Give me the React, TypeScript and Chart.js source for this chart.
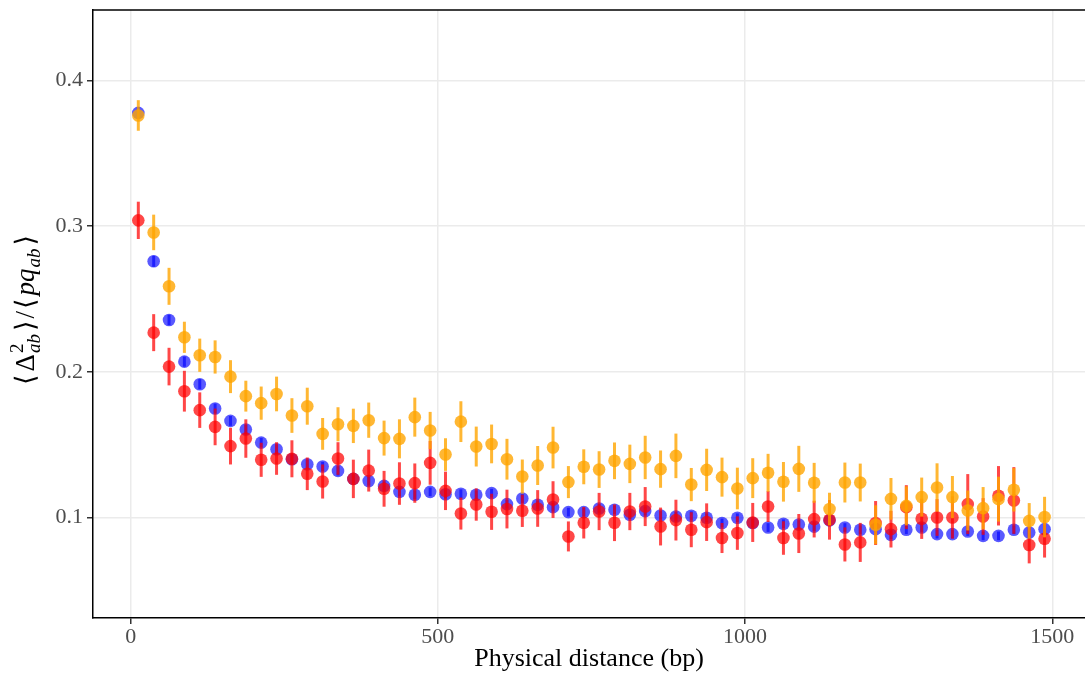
import React, { useEffect, useRef } from 'react';
import { Chart, registerables } from 'chart.js';

Chart.register(...registerables);

// Physical distance (bp), bin centres
const distances = [
  12.5, 37.5, 62.5, 87.5, 112.5, 137.5, 162.5, 187.5, 212.5, 237.5,
  262.5, 287.5, 312.5, 337.5, 362.5, 387.5, 412.5, 437.5, 462.5, 487.5,
  512.5, 537.5, 562.5, 587.5, 612.5, 637.5, 662.5, 687.5, 712.5, 737.5,
  762.5, 787.5, 812.5, 837.5, 862.5, 887.5, 912.5, 937.5, 962.5, 987.5,
  1012.5, 1037.5, 1062.5, 1087.5, 1112.5, 1137.5, 1162.5, 1187.5, 1212.5, 1237.5,
  1262.5, 1287.5, 1312.5, 1337.5, 1362.5, 1387.5, 1412.5, 1437.5, 1462.5, 1487.5,
];

const blueMean = [
  0.3778, 0.2759, 0.2356, 0.207, 0.1915, 0.1748, 0.1663, 0.1604, 0.1514, 0.1469,
  0.14, 0.1366, 0.135, 0.132, 0.1265, 0.125, 0.1217, 0.1176, 0.1156, 0.1176,
  0.116, 0.1163, 0.1156, 0.1167, 0.1092, 0.113, 0.1087, 0.1071, 0.1037, 0.1037,
  0.1062, 0.1053, 0.1019, 0.1044, 0.1014, 0.1007, 0.1012, 0.0998, 0.0962, 0.0998,
  0.0962, 0.0931, 0.0957, 0.0952, 0.0937, 0.098, 0.0931, 0.0916, 0.092, 0.0881,
  0.0916, 0.0931, 0.0886, 0.0886, 0.0904, 0.0874, 0.0874, 0.0916, 0.0897, 0.092,
];
const blueErr = [
  0.004, 0.0038, 0.0036, 0.0035, 0.0035, 0.0034, 0.0034, 0.0033, 0.0033, 0.0033,
  0.0032, 0.0032, 0.0032, 0.0032, 0.0031, 0.0031, 0.0031, 0.0031, 0.0031, 0.003,
  0.003, 0.003, 0.003, 0.003, 0.003, 0.003, 0.003, 0.003, 0.003, 0.003,
  0.003, 0.003, 0.003, 0.003, 0.003, 0.003, 0.003, 0.003, 0.003, 0.003,
  0.003, 0.003, 0.003, 0.003, 0.003, 0.003, 0.003, 0.003, 0.003, 0.003,
  0.003, 0.003, 0.003, 0.003, 0.003, 0.003, 0.003, 0.003, 0.003, 0.003,
];

const redMean = [
  0.304, 0.2269, 0.2036, 0.1867, 0.1737, 0.1622, 0.149, 0.1542, 0.1396, 0.1405,
  0.1403, 0.13, 0.1247, 0.1405, 0.1265, 0.1322, 0.1197, 0.1233, 0.1236, 0.1375,
  0.1183, 0.1027, 0.1089, 0.1039, 0.1058, 0.1046, 0.1062, 0.1123, 0.087, 0.0964,
  0.1041, 0.0964, 0.1041, 0.1075, 0.0938, 0.0982, 0.0916, 0.0968, 0.0859, 0.0893,
  0.0966, 0.1075, 0.0859, 0.089, 0.0989, 0.0984, 0.0815, 0.0829, 0.0962, 0.092,
  0.1071, 0.0991, 0.1, 0.1, 0.1092, 0.1007, 0.1149, 0.1117, 0.0811, 0.0854,
];
const redErr = [
  0.0128, 0.0127, 0.0129, 0.014, 0.0122, 0.0126, 0.0126, 0.0132, 0.0117, 0.0112,
  0.0127, 0.0112, 0.0117, 0.0112, 0.0132, 0.0144, 0.0123, 0.0146, 0.0135, 0.015,
  0.0132, 0.011, 0.0111, 0.0124, 0.0133, 0.0111, 0.0126, 0.0126, 0.0103, 0.0108,
  0.0128, 0.0126, 0.0128, 0.0134, 0.013, 0.014, 0.012, 0.0129, 0.0103, 0.0115,
  0.0134, 0.0106, 0.0115, 0.0134, 0.0126, 0.0136, 0.0117, 0.0134, 0.0151, 0.0126,
  0.0151, 0.0138, 0.0126, 0.0145, 0.0206, 0.0126, 0.0204, 0.0229, 0.0126, 0.0129,
];

const orangeMean = [
  0.376, 0.2957, 0.2587, 0.2237, 0.2114, 0.2102, 0.1967, 0.1833, 0.1785, 0.1848,
  0.17, 0.1764, 0.1574, 0.164, 0.1629, 0.1668, 0.1545, 0.154, 0.1689, 0.1597,
  0.1432, 0.1658, 0.1487, 0.1505, 0.14, 0.1281, 0.1357, 0.148, 0.1243, 0.1348,
  0.1329, 0.1389, 0.1368, 0.1412, 0.1332, 0.1423, 0.1226, 0.1327, 0.1277, 0.1199,
  0.127, 0.1307, 0.1245, 0.1334, 0.1238, 0.1058, 0.124, 0.124, 0.095, 0.1128,
  0.108, 0.114, 0.1206, 0.114, 0.1048, 0.1064, 0.1126, 0.119, 0.0977, 0.1003,
];
const orangeErr = [
  0.0105, 0.0122, 0.0127, 0.0107, 0.0114, 0.0114, 0.0113, 0.0106, 0.0114, 0.0119,
  0.0119, 0.0127, 0.0109, 0.0117, 0.0118, 0.0121, 0.012, 0.0134, 0.0134, 0.0128,
  0.0112, 0.014, 0.0137, 0.0133, 0.014, 0.0117, 0.0134, 0.0143, 0.011, 0.012,
  0.0126, 0.0126, 0.0132, 0.0149, 0.0128, 0.0153, 0.0114, 0.0145, 0.0134, 0.0143,
  0.0137, 0.013, 0.0136, 0.0158, 0.0137, 0.0112, 0.0137, 0.013, 0.0134, 0.0143,
  0.0134, 0.0134, 0.0166, 0.0145, 0.0137, 0.0145, 0.0154, 0.0149, 0.0122, 0.0139,
];

const xTicks = [0, 500, 1000, 1500];
const yTicks = [0.1, 0.2, 0.3, 0.4];
const xTitle = 'Physical distance (bp)';

const FONT = "'Liberation Serif', 'DejaVu Serif', 'Times New Roman', serif";

const errorBarPlugin = {
  id: 'errorBars',
  beforeDatasetDraw(chart: any, args: any) {
    const ds = chart.data.datasets[args.index];
    const errs: number[] = ds.errors;
    if (!errs) return;
    const { ctx, scales } = chart;
    ctx.save();
    ctx.strokeStyle = ds.barColor;
    ctx.lineWidth = 3;
    ctx.lineCap = 'butt';
    ds.data.forEach((p: any, i: number) => {
      const x = scales.x.getPixelForValue(p.x);
      const y1 = scales.y.getPixelForValue(p.y - errs[i]);
      const y2 = scales.y.getPixelForValue(p.y + errs[i]);
      ctx.beginPath();
      ctx.moveTo(x, y1);
      ctx.lineTo(x, y2);
      ctx.stroke();
    });
    ctx.restore();
  },
};

const framePlugin = {
  id: 'frameTop',
  afterDraw(chart: any) {
    const { ctx, chartArea } = chart;
    ctx.save();
    ctx.strokeStyle = '#000';
    ctx.lineWidth = 1.5;
    ctx.beginPath();
    ctx.moveTo(chartArea.left - 0.75, chartArea.top);
    ctx.lineTo(chartArea.right + 2, chartArea.top);
    ctx.stroke();
    ctx.restore();
  },
};

const yTitlePlugin = {
  id: 'yTitle',
  afterDraw(chart: any) {
    const ctx = chart.ctx;
    const base = 27;
    const small = 19;
    const up = `${base}px ${FONT}`;
    const it = `italic ${base}px ${FONT}`;
    const sm = `${small}px ${FONT}`;
    const smIt = `italic ${small}px ${FONT}`;
    type Piece = { items: { t: string; f: string; dy: number }[]; gap: number };
    const pieces: Piece[] = [
      { items: [{ t: '⟨', f: up, dy: 0 }], gap: 3 },
      { items: [{ t: 'Δ', f: up, dy: 0 }], gap: 1 },
      { items: [{ t: '2', f: sm, dy: -11 }, { t: 'ab', f: smIt, dy: 6 }], gap: 3 },
      { items: [{ t: '⟩', f: up, dy: 0 }], gap: 2 },
      { items: [{ t: '/', f: up, dy: 0 }], gap: 2 },
      { items: [{ t: '⟨', f: up, dy: 0 }], gap: 3 },
      { items: [{ t: 'pq', f: it, dy: 0 }], gap: 1 },
      { items: [{ t: 'ab', f: smIt, dy: 6 }], gap: 3 },
      { items: [{ t: '⟩', f: up, dy: 0 }], gap: 0 },
    ];
    ctx.save();
    const widths = pieces.map((p) =>
      Math.max(
        ...p.items.map((it2) => {
          ctx.font = it2.f;
          return ctx.measureText(it2.t).width;
        })
      )
    );
    const total = widths.reduce((a, b, i) => a + b + pieces[i].gap, 0);
    ctx.translate(34, 310);
    ctx.rotate(-Math.PI / 2);
    ctx.fillStyle = '#000';
    ctx.textBaseline = 'alphabetic';
    ctx.textAlign = 'left';
    let x = -total / 2;
    pieces.forEach((p, i) => {
      p.items.forEach((it2) => {
        ctx.font = it2.f;
        ctx.fillText(it2.t, x, it2.dy);
      });
      x += widths[i] + p.gap;
    });
    ctx.restore();
  },
};

export default function App() {
  const ref = useRef<HTMLCanvasElement | null>(null);

  useEffect(() => {
    document.body.style.margin = '0';
    const canvas = ref.current;
    if (!canvas) return;
    const mk = (m: number[]) => m.map((v, i) => ({ x: distances[i], y: v }));
    const chart = new Chart(canvas, {
      type: 'scatter',
      data: {
        datasets: [
          {
            label: 'orange',
            data: mk(orangeMean),
            backgroundColor: 'rgba(255,165,0,0.8)',
            borderWidth: 0,
            pointRadius: 6.3,
            errors: orangeErr,
            barColor: 'rgba(255,165,0,0.8)',
          } as any,
          {
            label: 'red',
            data: mk(redMean),
            backgroundColor: 'rgba(255,0,0,0.72)',
            borderWidth: 0,
            pointRadius: 6.3,
            errors: redErr,
            barColor: 'rgba(255,0,0,0.72)',
          } as any,
          {
            label: 'blue',
            data: mk(blueMean),
            backgroundColor: 'rgba(0,0,255,0.65)',
            borderWidth: 0,
            pointRadius: 6.3,
            errors: blueErr,
            barColor: 'rgba(0,0,255,0.65)',
          } as any,
        ],
      },
      options: {
        animation: false,
        responsive: false,
        devicePixelRatio: 1,
        events: [],
        layout: { autoPadding: false, padding: { top: 10, right: 0, left: 0, bottom: 0 } },
        plugins: {
          legend: { display: false },
          tooltip: { enabled: false },
        },
        scales: {
          x: {
            type: 'linear',
            min: -61.25,
            max: 1553.3,
            afterBuildTicks: (s: any) => {
              s.ticks = xTicks.map((v) => ({ value: v }));
            },
            afterFit: (s: any) => {
              s.height = 60;
              s.paddingLeft = 0;
              s.paddingRight = 0;
              s.paddingTop = 0;
              s.paddingBottom = 0;
            },
            grid: {
              color: '#EBEBEB',
              lineWidth: 1.5,
              drawTicks: true,
              tickLength: 6,
              tickColor: '#333333',
              tickWidth: 1.5,
            },
            border: { display: true, color: '#000', width: 1.5 },
            ticks: {
              color: '#4D4D4D',
              font: { family: FONT, size: 22 },
              padding: 0,
              maxRotation: 0,
              callback: (v: any) => String(v),
            },
            title: {
              display: true,
              text: xTitle,
              color: '#000',
              font: { family: FONT, size: 26 },
              padding: { top: 0, bottom: 3 },
            },
          },
          y: {
            type: 'linear',
            min: 0.031,
            max: 0.4484,
            afterBuildTicks: (s: any) => {
              s.ticks = yTicks.map((v) => ({ value: v }));
            },
            afterFit: (s: any) => {
              s.width = 93;
              s.paddingLeft = 0;
              s.paddingRight = 0;
              s.paddingTop = 0;
              s.paddingBottom = 0;
            },
            grid: {
              color: '#EBEBEB',
              lineWidth: 1.5,
              drawTicks: true,
              tickLength: 6,
              tickColor: '#333333',
              tickWidth: 1.5,
            },
            border: { display: true, color: '#000', width: 1.5 },
            ticks: {
              color: '#4D4D4D',
              font: { family: FONT, size: 22 },
              padding: 4,
              callback: (v: any) => Number(v).toFixed(1),
            },
          },
        },
      } as any,
      plugins: [errorBarPlugin, framePlugin, yTitlePlugin],
    });
    return () => chart.destroy();
  }, []);

  return (
    <div style={{ width: 1085, height: 678, overflow: 'hidden' }}>
      <canvas ref={ref} width={1085} height={678} style={{ display: 'block' }} />
    </div>
  );
}
